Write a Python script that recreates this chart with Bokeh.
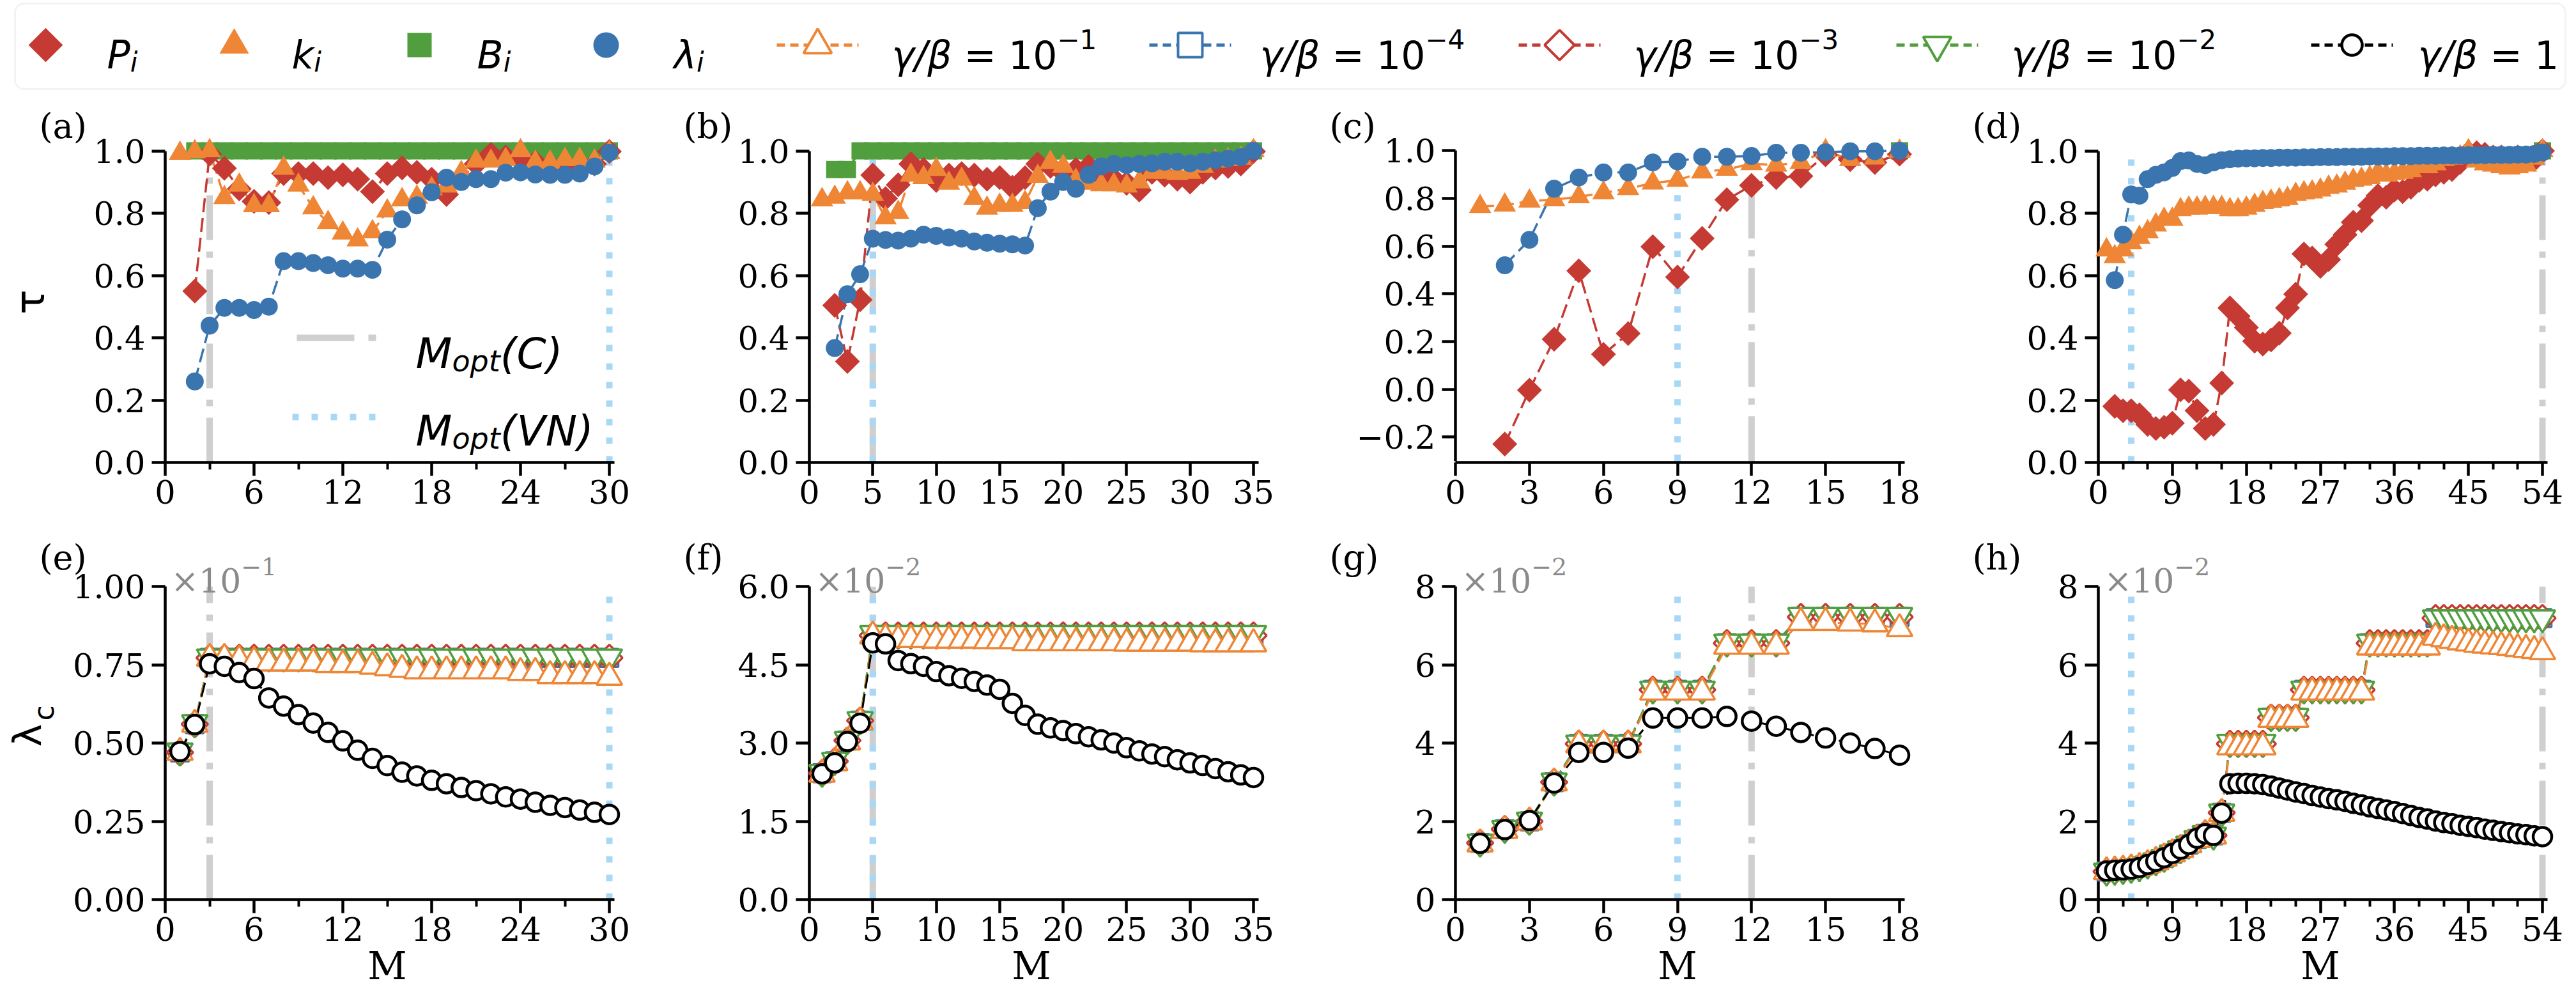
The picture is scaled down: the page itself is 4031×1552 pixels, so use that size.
import numpy as np
from bokeh.plotting import figure
from bokeh.layouts import column, row
from bokeh.models import Range1d, FixedTicker, CustomJSTickFormatter, Label, BoxAnnotation
from bokeh.core.properties import value
from bokeh.embed import file_html
from bokeh.resources import INLINE

# ======================= DATA =======================
# ---- top row: tau of P_i, k_i, B_i, lambda_i versus M ----
a_M_P = list(range(2, 31))
a_P = [0.55, 0.99, 0.944, 0.878, 0.838, 0.834, 0.927, 0.927, 0.927, 0.914, 0.923, 0.909, 0.869, 0.927,
       0.945, 0.931, 0.909, 0.86, 0.914, 0.958, 0.989, 0.98, 0.976, 0.963, 0.954, 0.954, 0.945, 0.958, 0.998]
a_M_k = list(range(1, 31))
a_k = [0.992, 0.997, 1.0, 0.85, 0.89, 0.824, 0.824, 0.944, 0.89, 0.817, 0.77, 0.736, 0.714, 0.74, 0.807,
       0.843, 0.851, 0.878, 0.887, 0.93, 0.967, 0.967, 0.972, 1.0, 0.963, 0.963, 0.972, 0.972, 0.967, 0.994]
a_M_B = list(range(2, 31))
a_B = [1.0, 1.0, 1.0, 1.0, 1.0, 1.0, 1.0, 1.0, 1.0, 1.0, 1.0, 1.0, 1.0, 1.0, 1.0,
       1.0, 1.0, 1.0, 1.0, 1.0, 1.0, 1.0, 1.0, 1.0, 1.0, 1.0, 1.0, 1.0, 1.0]
a_M_L = list(range(2, 31))
a_L = [0.26, 0.439, 0.496, 0.496, 0.489, 0.50, 0.646, 0.646, 0.64, 0.633, 0.622, 0.622, 0.618, 0.715,
       0.78, 0.825, 0.867, 0.914, 0.90, 0.909, 0.909, 0.93, 0.931, 0.924, 0.923, 0.923, 0.927, 0.95, 0.994]

b_M_P = list(range(2, 36))
b_P = [0.504, 0.324, 0.522, 0.922, 0.847, 0.891, 0.958, 0.94, 0.905, 0.922, 0.927, 0.922, 0.909, 0.914,
       0.883, 0.914, 0.958, 0.95, 0.931, 0.94, 0.95, 0.922, 0.909, 0.896, 0.874, 0.931, 0.922, 0.909,
       0.90, 0.931, 0.945, 0.95, 0.958, 0.998]
b_M_k = list(range(1, 36))
b_k = [0.843, 0.851, 0.865, 0.865, 0.86, 0.785, 0.802, 0.922, 0.914, 0.94, 0.896, 0.909, 0.847, 0.816,
       0.825, 0.825, 0.834, 0.918, 0.963, 0.95, 0.905, 0.896, 0.891, 0.891, 0.887, 0.90, 0.931, 0.931,
       0.927, 0.931, 0.95, 0.967, 0.972, 0.976, 1.0]
b_M_B = list(range(2, 36))
b_B = [0.94, 0.94, 1.0, 1.0, 1.0, 1.0, 1.0, 1.0, 1.0, 1.0, 1.0, 1.0, 1.0, 1.0, 1.0, 1.0, 1.0,
       1.0, 1.0, 1.0, 1.0, 1.0, 1.0, 1.0, 1.0, 1.0, 1.0, 1.0, 1.0, 1.0, 1.0, 1.0, 1.0, 1.0]
b_M_L = list(range(2, 36))
b_L = [0.367, 0.54, 0.604, 0.718, 0.714, 0.712, 0.718, 0.731, 0.727, 0.722, 0.718, 0.709, 0.705, 0.702,
       0.70, 0.696, 0.816, 0.869, 0.90, 0.878, 0.923, 0.95, 0.958, 0.954, 0.958, 0.96, 0.965, 0.965,
       0.96, 0.965, 0.97, 0.975, 0.98, 1.0]

c_M_P = list(range(2, 19))
c_P = [-0.229, -0.003, 0.21, 0.497, 0.147, 0.234, 0.598, 0.471, 0.633, 0.795, 0.855, 0.888, 0.894,
       0.983, 0.963, 0.951, 0.986]
c_M_k = list(range(1, 19))
c_k = [0.766, 0.772, 0.789, 0.795, 0.807, 0.824, 0.841, 0.865, 0.876, 0.911, 0.922, 0.946, 0.94,
       0.951, 1.0, 0.963, 0.969, 0.998]
c_M_B = [18]
c_B = [1.0]
c_M_L = list(range(2, 19))
c_L = [0.52, 0.627, 0.841, 0.888, 0.909, 0.909, 0.951, 0.955, 0.975, 0.975, 0.978, 0.992, 0.992,
       0.994, 0.998, 0.998, 1.0]

d_M_P = list(range(2, 55))
d_P = [0.18, 0.166, 0.166, 0.153, 0.122, 0.109, 0.113, 0.126, 0.233, 0.229, 0.166, 0.109, 0.122,
       0.255, 0.496, 0.469, 0.433, 0.389, 0.38, 0.393, 0.415, 0.496, 0.54,
       0.669, 0.656, 0.629, 0.651, 0.70, 0.731, 0.771, 0.776, 0.825, 0.856,
       0.851, 0.874, 0.869, 0.883, 0.905, 0.909, 0.923, 0.931, 0.94, 0.963,
       0.994, 0.994, 0.989, 0.98, 0.98, 0.976, 0.98, 0.976, 0.972, 1.0]
d_M_k = list(range(1, 55))
d_k = [0.682, 0.66, 0.682, 0.705, 0.722, 0.74, 0.762, 0.78, 0.78, 0.811,
       0.816, 0.816, 0.818, 0.818, 0.818, 0.811, 0.811, 0.816, 0.825, 0.834,
       0.838, 0.843, 0.847, 0.86, 0.865, 0.868, 0.874, 0.883, 0.887, 0.896,
       0.905, 0.909, 0.914, 0.931, 0.922, 0.927, 0.931, 0.936, 0.949, 0.949,
       0.958, 0.972, 0.976, 0.98, 1.0, 0.967, 0.958, 0.954, 0.949, 0.945,
       0.949, 0.954, 0.976, 1.0]
d_M_B = [54]
d_B = [1.0]
d_M_L = list(range(2, 55))
d_L = [0.585, 0.731, 0.86, 0.856, 0.909, 0.923, 0.931, 0.945, 0.967, 0.969, 0.958, 0.954, 0.963, 0.97, 0.973,
       0.975, 0.976, 0.976, 0.977, 0.977, 0.978, 0.978, 0.978, 0.979, 0.979,
       0.98, 0.98, 0.98, 0.981, 0.981, 0.981, 0.982, 0.982, 0.982, 0.983,
       0.983, 0.983, 0.984, 0.984, 0.984, 0.985, 0.985, 0.985, 0.986, 0.986,
       0.986, 0.987, 0.987, 0.987, 0.988, 0.988, 0.99, 0.995]

# ---- bottom row: lambda_c (in units of the axis multiplier) versus M ----
e_M = list(range(1, 31))
e_g1 = [0.473, 0.559, 0.753, 0.745, 0.725, 0.706, 0.644, 0.618, 0.591, 0.564, 0.534, 0.507, 0.477, 0.451,
        0.428, 0.407, 0.395, 0.381, 0.37, 0.358, 0.348, 0.338, 0.328, 0.321, 0.311, 0.301, 0.294, 0.286,
        0.279, 0.272]
e_m1 = [0.47, 0.56, 0.77, 0.77, 0.765, 0.76, 0.755, 0.755, 0.755, 0.755, 0.75, 0.75, 0.75, 0.745, 0.74,
        0.735, 0.73, 0.73, 0.73, 0.73, 0.73, 0.73, 0.73, 0.725, 0.725, 0.715, 0.715, 0.715, 0.715, 0.71]
e_m2 = [0.475, 0.565, 0.775, 0.775, 0.775, 0.775, 0.775, 0.775, 0.775, 0.775, 0.775, 0.775, 0.775, 0.775,
        0.775, 0.775, 0.775, 0.775, 0.775, 0.775, 0.775, 0.775, 0.775, 0.775, 0.775, 0.775, 0.775, 0.775,
        0.775, 0.775]
e_m3 = [0.47, 0.56, 0.772, 0.772, 0.772, 0.772, 0.772, 0.772, 0.772, 0.772, 0.772, 0.772, 0.772, 0.772,
        0.772, 0.772, 0.772, 0.772, 0.772, 0.772, 0.772, 0.772, 0.772, 0.772, 0.772, 0.772, 0.772, 0.772,
        0.772, 0.772]
e_m4 = [0.47, 0.56, 0.772, 0.772, 0.772, 0.772, 0.772, 0.772, 0.772, 0.772, 0.772, 0.772, 0.772, 0.772,
        0.772, 0.772, 0.772, 0.772, 0.772, 0.772, 0.772, 0.772, 0.772, 0.772, 0.772, 0.772, 0.772, 0.772,
        0.772, 0.772]

f_M = list(range(1, 36))
f_g1 = [2.41, 2.62, 3.03, 3.38, 4.92, 4.9, 4.58, 4.52, 4.47, 4.37, 4.29, 4.24, 4.18, 4.11, 4.03, 3.76,
        3.53, 3.36, 3.29, 3.24, 3.18, 3.12, 3.06, 3.0, 2.91, 2.85, 2.79, 2.74, 2.68, 2.62, 2.57, 2.51,
        2.45, 2.39, 2.34]
f_m1 = [2.4, 2.62, 3.02, 3.4, 5.05, 5.0, 4.98, 4.98, 4.98, 4.97, 4.97, 4.97, 4.97, 4.96, 4.96, 4.96,
        4.92, 4.92, 4.92, 4.92, 4.92, 4.92, 4.92, 4.92, 4.91, 4.91, 4.91, 4.91, 4.91, 4.91, 4.9, 4.9,
        4.9, 4.9, 4.9]
f_m2 = [2.44, 2.67, 3.07, 3.45, 5.1, 5.1, 5.1, 5.1, 5.1, 5.1, 5.1, 5.1, 5.1, 5.1, 5.1, 5.1, 5.1, 5.1,
        5.1, 5.1, 5.1, 5.1, 5.1, 5.1, 5.1, 5.1, 5.1, 5.1, 5.1, 5.1, 5.1, 5.1, 5.1, 5.1, 5.1]
f_m3 = [2.42, 2.65, 3.05, 3.43, 5.06, 5.06, 5.06, 5.06, 5.06, 5.06, 5.06, 5.06, 5.06, 5.06, 5.06, 5.06,
        5.06, 5.06, 5.06, 5.06, 5.06, 5.06, 5.06, 5.06, 5.06, 5.06, 5.06, 5.06, 5.06, 5.06, 5.06, 5.06,
        5.06, 5.06, 5.06]
f_m4 = [2.42, 2.65, 3.05, 3.43, 5.06, 5.06, 5.06, 5.06, 5.06, 5.06, 5.06, 5.06, 5.06, 5.06, 5.06, 5.06,
        5.06, 5.06, 5.06, 5.06, 5.06, 5.06, 5.06, 5.06, 5.06, 5.06, 5.06, 5.06, 5.06, 5.06, 5.06, 5.06,
        5.06, 5.06, 5.06]

g_M = list(range(1, 19))
g_g1 = [1.44, 1.79, 2.02, 2.98, 3.76, 3.76, 3.87, 4.64, 4.64, 4.64, 4.68, 4.56, 4.43, 4.27, 4.13, 4.0, 3.86, 3.69]
g_m1 = [1.42, 1.77, 1.98, 2.98, 3.95, 3.95, 3.95, 5.3, 5.3, 5.3, 6.47, 6.47, 6.47, 7.08, 7.08, 7.06, 7.04, 6.92]
g_m2 = [1.47, 1.82, 2.03, 3.03, 4.0, 4.0, 4.0, 5.38, 5.38, 5.38, 6.58, 6.58, 6.58, 7.26, 7.26, 7.26, 7.26, 7.26]
g_m3 = [1.45, 1.8, 2.0, 3.0, 3.98, 3.98, 3.98, 5.36, 5.36, 5.36, 6.55, 6.55, 6.55, 7.22, 7.22, 7.22, 7.22, 7.22]
g_m4 = [1.45, 1.8, 2.0, 3.0, 3.98, 3.98, 3.98, 5.36, 5.36, 5.36, 6.55, 6.55, 6.55, 7.22, 7.22, 7.22, 7.22, 7.22]

h_M = list(range(1, 55))
h_g1 = [0.73, 0.75, 0.76, 0.78, 0.82, 0.9, 0.98, 1.07, 1.18, 1.29,
        1.41, 1.57, 1.68, 1.64, 2.21, 2.96, 2.97, 2.97, 2.96, 2.94,
        2.90, 2.85, 2.80, 2.75, 2.71, 2.66, 2.62, 2.58, 2.55, 2.51,
        2.46, 2.42, 2.37, 2.33, 2.29, 2.25, 2.20, 2.15, 2.10, 2.06,
        2.01, 1.97, 1.94, 1.90, 1.87, 1.84, 1.80, 1.77, 1.74, 1.71,
        1.68, 1.66, 1.63, 1.61]
h_m1 = [0.71, 0.73, 0.75, 0.78, 0.82, 0.89, 0.97, 1.06, 1.17, 1.28,
        1.40, 1.53, 1.66, 1.62, 2.2, 3.9, 3.9, 3.9, 3.9, 3.9,
        4.6, 4.6, 4.6, 4.6, 5.3, 5.3, 5.3, 5.3, 5.3, 5.3,
        5.3, 5.3, 6.45, 6.45, 6.45, 6.45, 6.45, 6.45, 6.45, 6.45,
        6.7, 6.66, 6.62, 6.58, 6.55, 6.52, 6.5, 6.48, 6.46, 6.44,
        6.41, 6.39, 6.36, 6.33]
h_m2 = [0.73, 0.75, 0.77, 0.8, 0.84, 0.91, 0.99, 1.08, 1.19, 1.3,
        1.42, 1.56, 1.69, 1.65, 2.24, 4.02, 4.02, 4.02, 4.02, 4.02,
        4.68, 4.68, 4.68, 4.68, 5.38, 5.38, 5.38, 5.38, 5.38, 5.38,
        5.38, 5.38, 6.58, 6.58, 6.58, 6.58, 6.58, 6.58, 6.58, 6.58,
        7.2, 7.2, 7.2, 7.2, 7.2, 7.2, 7.2, 7.2, 7.2, 7.2,
        7.2, 7.2, 7.2, 7.2]
h_m3 = [0.72, 0.74, 0.76, 0.79, 0.83, 0.9, 0.98, 1.07, 1.18, 1.29,
        1.41, 1.55, 1.68, 1.64, 2.22, 3.98, 3.98, 3.98, 3.98, 3.98,
        4.65, 4.65, 4.65, 4.65, 5.36, 5.36, 5.36, 5.36, 5.36, 5.36,
        5.36, 5.36, 6.55, 6.55, 6.55, 6.55, 6.55, 6.55, 6.55, 6.55,
        7.19, 7.19, 7.19, 7.19, 7.19, 7.19, 7.19, 7.19, 7.19, 7.19,
        7.19, 7.19, 7.19, 7.19]
h_m4 = [0.72, 0.74, 0.76, 0.79, 0.83, 0.9, 0.98, 1.07, 1.18, 1.29,
        1.41, 1.55, 1.68, 1.64, 2.22, 3.98, 3.98, 3.98, 3.98, 3.98,
        4.65, 4.65, 4.65, 4.65, 5.36, 5.36, 5.36, 5.36, 5.36, 5.36,
        5.36, 5.36, 6.55, 6.55, 6.55, 6.55, 6.55, 6.55, 6.55, 6.55,
        7.19, 7.19, 7.19, 7.19, 7.19, 7.19, 7.19, 7.19, 7.19, 7.19,
        7.19, 7.19, 7.19, 7.19]

# optimal M markers
M_opt_C = [3, 5, 12, 54]
M_opt_VN = [30, 5, 9, 4]

# axes
x_max = [30, 35, 18, 54]
x_major = [[0, 6, 12, 18, 24, 30], [0, 5, 10, 15, 20, 25, 30, 35], [0, 3, 6, 9, 12, 15, 18],
           [0, 9, 18, 27, 36, 45, 54]]
x_minor = [[3, 9, 15, 21, 27], [], [], [3, 6, 12, 15, 21, 24, 30, 33, 39, 42, 48, 51]]
top_yticks = [[0.0, 0.2, 0.4, 0.6, 0.8, 1.0], [0.0, 0.2, 0.4, 0.6, 0.8, 1.0],
              [-0.2, 0.0, 0.2, 0.4, 0.6, 0.8, 1.0], [0.0, 0.2, 0.4, 0.6, 0.8, 1.0]]
bot_yticks = [[0.0, 0.25, 0.5, 0.75, 1.0], [0.0, 1.5, 3.0, 4.5, 6.0], [0, 2, 4, 6, 8], [0, 2, 4, 6, 8]]
bot_ydec = [2, 1, 0, 0]
bot_exp = ["\u22121", "\u22122", "\u22122", "\u22122"]
top_labels = ["(a)", "(b)", "(c)", "(d)"]
bot_labels = ["(e)", "(f)", "(g)", "(h)"]

# ======================= STYLE / GEOMETRY =======================
RED, ORANGE, GREEN, BLUE = "#C53A32", "#EF8636", "#519E3E", "#3B75AF"
VGRAY, VBLUE = "#CFCFCF", "#A8D8F6"
SERIF, SANS = "DejaVu Serif", "DejaVu Sans"

PAGE_W = 4031
LEG_H = 150
FW, AXLEN = 720, 695
FIG_X = [0, 1008, 2016, 3024]
FIG_W = [1008, 1008, 1008, 1007]
FRAME_L = [258, 1266, 2277, 3283]
T_FT, T_FH, T_BT, T_BB = 213, 510, 63, 95
B_FT, B_FH, B_BT, B_BB = 917, 490, 99, 145

W_SANS = {"P": .603, "k": .579, "B": .686, "λ": .592, "i": .278, "γ": .592, "/": .337, "β": .638,
          " ": .318, "=": .838, "0": .636, "1": .636, "M": .863, "o": .612, "p": .635, "t": .392,
          "(": .390, ")": .390, "C": .698, "V": .684, "N": .748}
W_SERIF = {"×": .838, "1": .636, "0": .636}


def tw(s, size, table):
    return sum(table.get(ch, 0.6) for ch in s) * size


def to_data(g, px, py):
    x = (px - g["fl"]) / FW * (g["x1"] - g["x0"]) + g["x0"]
    y = g["y1"] - (py - g["ft"]) / g["fh"] * (g["y1"] - g["y0"])
    return x, y


def add_text(p, g, px, py, text, size, font=SERIF, style="normal", align="left",
             baseline="alphabetic", color="black", angle=0.0):
    x, y = to_data(g, px, py)
    p.text(x=[x], y=[y], text=[text], text_font=value(font), text_font_size=value(f"{size}px"),
           text_font_style=value(style), text_align=value(align), text_baseline=value(baseline),
           text_color=color, angle=angle, level="overlay")


def make_panel(i, top, y0, y1):
    ft, fh, bt, bb = (T_FT, T_FH, T_BT, T_BB) if top else (B_FT, B_FH, B_BT, B_BB)
    bl = FRAME_L[i] - FIG_X[i]
    br = FIG_W[i] - bl - FW
    x1 = x_max[i] * FW / AXLEN
    p = figure(frame_width=FW, frame_height=fh, x_range=Range1d(0, x1), y_range=Range1d(y0, y1),
               min_border_left=bl, min_border_right=br, min_border_top=bt, min_border_bottom=bb,
               output_backend="svg", toolbar_location=None, title=None)
    p.xgrid.visible = False
    p.ygrid.visible = False
    p.outline_line_color = None
    p.background_fill_color = "white"
    p.border_fill_color = "white"
    g = dict(fl=FRAME_L[i], ft=ft, fh=fh, x0=0.0, x1=x1, y0=y0, y1=y1)
    return p, g


def style_axes(p, i, yt, ydec, ybounds):
    xa, ya = p.xaxis[0], p.yaxis[0]
    xa.ticker = FixedTicker(ticks=x_major[i], minor_ticks=x_minor[i])
    ya.ticker = FixedTicker(ticks=yt, minor_ticks=[])
    xa.formatter = CustomJSTickFormatter(code="return tick.toFixed(0);")
    ya.formatter = CustomJSTickFormatter(code="return tick.toFixed(%d).replace('-', '\\u2212');" % ydec)
    xa.bounds = (0, x_max[i] * (1 + 8.0 / AXLEN))
    ya.bounds = ybounds
    for ax in (xa, ya):
        ax.axis_line_width = 4.5
        ax.axis_line_color = "black"
        ax.major_tick_line_width = 4.5
        ax.minor_tick_line_width = 4
        ax.major_tick_out = 21
        ax.major_tick_in = 0
        ax.minor_tick_out = 11
        ax.minor_tick_in = 0
        ax.major_label_text_font = SERIF
        ax.major_label_text_font_size = "51px"
        ax.major_label_text_color = "black"
    xa.major_label_standoff = 6
    ya.major_label_standoff = 10


def vlines(p, i, ylo, yhi):
    p.segment(x0=[M_opt_C[i]], y0=[ylo], x1=[M_opt_C[i]], y1=[yhi], line_color=VGRAY,
              line_width=10, line_dash="70 18 10 18")
    p.segment(x0=[M_opt_VN[i]], y0=[ylo], x1=[M_opt_VN[i]], y1=[yhi], line_color=VBLUE,
              line_width=10, line_dash="10 19")


DASH = "22 9"


def top_series(p, M, v, kind):
    col = {"P": RED, "k": ORANGE, "B": GREEN, "L": BLUE}[kind]
    p.line(M, v, line_color=col, line_width=3.5, line_dash=DASH)
    if kind == "P":
        p.scatter(M, v, marker="square", angle=np.pi / 4, size=27.5, fill_color=col, line_color=None, level="overlay")
    elif kind == "k":
        p.scatter(M, v, marker="triangle", size=35, fill_color=col, line_color=None, level="overlay")
    elif kind == "B":
        p.scatter(M, v, marker="square", size=27, fill_color=col, line_color=None, level="overlay")
    else:
        p.scatter(M, v, marker="circle", size=28, fill_color=col, line_color=None, level="overlay")


def bot_series(p, M, v, kind):
    col = {"m4": BLUE, "m3": RED, "m2": GREEN, "m1": ORANGE, "g1": "black"}[kind]
    p.line(M, v, line_color=col, line_width=3, line_dash=DASH)
    common = dict(fill_color="white", line_color=col, level="overlay")
    if kind == "m4":
        p.scatter(M, v, marker="square", size=28, line_width=3.5, **common)
    elif kind == "m3":
        p.scatter(M, v, marker="square", angle=np.pi / 4, size=29, line_width=3.5, **common)
    elif kind == "m2":
        p.scatter(M, v, marker="inverted_triangle", size=40, line_width=3.5, **common)
    elif kind == "m1":
        p.scatter(M, v, marker="triangle", size=40, line_width=3.5, **common)
    else:
        p.scatter(M, v, marker="circle", size=29, line_width=4.5, **common)


# ======================= LEGEND STRIP =======================
leg = figure(frame_width=PAGE_W, frame_height=LEG_H, x_range=Range1d(0, PAGE_W), y_range=Range1d(0, LEG_H),
             min_border_left=0, min_border_right=0, min_border_top=0, min_border_bottom=0,
             x_axis_type=None, y_axis_type=None, output_backend="svg", toolbar_location=None, title=None)
leg.outline_line_color = None
leg.add_layout(BoxAnnotation(left=23, right=4014, top=LEG_H - 5, bottom=LEG_H - 139, fill_color=None,
                             fill_alpha=0, line_color="#D6D6D6", line_width=3, border_radius=14))
LY = LEG_H - 70
LB = LEG_H - 85


def leg_text(x, y, text, size, style="italic"):
    leg.add_layout(Label(x=x, y=y, text=text, text_font=SANS, text_font_size=f"{size}px",
                         text_font_style=style, text_align="left", text_baseline="alphabetic", text_color="black"))


filled_items = [(71, 167, "P", RED), (366, 456, "k", ORANGE), (656, 746, "B", GREEN), (948, 1054, "λ", BLUE)]
for mx, tx, sym, col in filled_items:
    if sym == "P":
        leg.scatter([mx], [LY], marker="square", angle=np.pi / 4, size=38, fill_color=col, line_color=None)
    elif sym == "k":
        leg.scatter([mx], [LY], marker="triangle", size=46, fill_color=col, line_color=None)
    elif sym == "B":
        leg.scatter([mx], [LY], marker="square", size=38, fill_color=col, line_color=None)
    else:
        leg.scatter([mx], [LY], marker="circle", size=40, fill_color=col, line_color=None)
    leg_text(tx, LB, sym, 60)
    leg_text(tx + tw(sym, 60, W_SANS), LB - 12, "i", 42)

line_items = [(1279, 1395, "\u22121", ORANGE, "triangle"), (1862, 1971, "\u22124", BLUE, "square"),
              (2440, 2556, "\u22123", RED, "diamond"), (3031, 3147, "\u22122", GREEN, "inverted_triangle"),
              (3680, 3783, None, "black", "circle")]
for mx, tx, sup, col, mk in line_items:
    leg.segment(x0=[mx - 64], y0=[LY], x1=[mx + 64], y1=[LY], line_color=col, line_width=5, line_dash="13 8")
    if mk == "diamond":
        leg.scatter([mx], [LY], marker="square", angle=np.pi / 4, size=33, fill_color="white", line_color=col, line_width=4)
    elif mk == "circle":
        leg.scatter([mx], [LY], marker="circle", size=32, fill_color="white", line_color=col, line_width=4.5)
    else:
        leg.scatter([mx], [LY], marker=mk, size=44 if mk != "square" else 38, fill_color="white",
                    line_color=col, line_width=4)
    leg_text(tx, LB, "γ/β", 60)
    x2 = tx + tw("γ/β ", 60, W_SANS)
    leg_text(x2, LB, "=", 60, style="normal")
    x3 = x2 + tw("= ", 60, W_SANS)
    num = "10" if sup else "1"
    leg_text(x3, LB, num, 60, style="normal")
    if sup:
        leg_text(x3 + tw(num, 60, W_SANS), LB + 24, sup, 42, style="normal")

# ======================= TOP ROW =======================
top_data = [
    [(a_M_B, a_B, "B"), (a_M_P, a_P, "P"), (a_M_k, a_k, "k"), (a_M_L, a_L, "L")],
    [(b_M_B, b_B, "B"), (b_M_P, b_P, "P"), (b_M_k, b_k, "k"), (b_M_L, b_L, "L")],
    [(c_M_B, c_B, "B"), (c_M_P, c_P, "P"), (c_M_k, c_k, "k"), (c_M_L, c_L, "L")],
    [(d_M_B, d_B, "B"), (d_M_P, d_P, "P"), (d_M_k, d_k, "k"), (d_M_L, d_L, "L")],
]
top_figs = []
for i in range(4):
    if i == 2:
        ylo = -0.3
        scale = 485.3 / 1.3
        y0 = -0.3 - (723 - 720.7) / scale
        y1 = y0 + T_FH / scale
    else:
        ylo = 0.0
        y0 = 0.0
        y1 = T_FH / 487.5
    p, g = make_panel(i, True, y0, y1)
    style_axes(p, i, top_yticks[i], 1, (ylo, 1.0))
    vlines(p, i, ylo, 1.0)
    for M, v, kind in top_data[i]:
        top_series(p, M, v, kind)
    add_text(p, g, FRAME_L[i] - 197, 197, top_labels[i], 54, baseline="middle")
    if i == 0:
        add_text(p, g, 46, 472, "τ", 64, font=SANS, align="center", baseline="middle", angle=np.pi / 2)
        # M_opt legend
        gx0, gy = to_data(g, 464, 528)
        gx1, _ = to_data(g, 592, 528)
        p.segment(x0=[gx0], y0=[gy], x1=[gx1], y1=[gy], line_color=VGRAY, line_width=10, line_dash="90 22 12 22")
        bx0, by = to_data(g, 457, 652)
        bx1, _ = to_data(g, 589, 652)
        p.segment(x0=[bx0], y0=[by], x1=[bx1], y1=[by], line_color=VBLUE, line_width=10, line_dash="10 20")
        for base_y, tail in ((553, "(C)"), (674, "(VN)")):
            x = 650
            add_text(p, g, x, base_y, "M", 66, font=SANS, style="italic")
            x += tw("M", 66, W_SANS)
            add_text(p, g, x, base_y + 11, "opt", 46, font=SANS, style="italic")
            x += tw("opt", 46, W_SANS)
            add_text(p, g, x, base_y, tail, 66, font=SANS, style="italic")
    top_figs.append(p)

# ======================= BOTTOM ROW =======================
bot_data = [
    [(e_M, e_m4, "m4"), (e_M, e_m3, "m3"), (e_M, e_m2, "m2"), (e_M, e_m1, "m1"), (e_M, e_g1, "g1")],
    [(f_M, f_m4, "m4"), (f_M, f_m3, "m3"), (f_M, f_m2, "m2"), (f_M, f_m1, "m1"), (f_M, f_g1, "g1")],
    [(g_M, g_m4, "m4"), (g_M, g_m3, "m3"), (g_M, g_m2, "m2"), (g_M, g_m1, "m1"), (g_M, g_g1, "g1")],
    [(h_M, h_m4, "m4"), (h_M, h_m3, "m3"), (h_M, h_m2, "m2"), (h_M, h_m1, "m1"), (h_M, h_g1, "g1")],
]
bot_figs = []
for i in range(4):
    ytop = bot_yticks[i][-1]
    p, g = make_panel(i, False, 0.0, ytop)
    style_axes(p, i, bot_yticks[i], bot_ydec[i], (0.0, ytop))
    vlines(p, i, 0.0, ytop)
    for M, v, kind in bot_data[i]:
        bot_series(p, M, v, kind)
    add_text(p, g, FRAME_L[i] - 197, 872, bot_labels[i], 54, baseline="middle")
    add_text(p, g, FRAME_L[i] + 9, 908, "×10", 52, color="#8A8A8A")
    add_text(p, g, FRAME_L[i] + 9 + tw("×10", 52, W_SERIF), 886, bot_exp[i], 38, color="#8A8A8A")
    add_text(p, g, FRAME_L[i] + AXLEN / 2, 1510, "M", 60, align="center", baseline="middle")
    if i == 0:
        add_text(p, g, 42, 1150, "λ", 60, font=SANS, align="center", baseline="middle", angle=np.pi / 2)
        add_text(p, g, 68, 1115, "c", 44, font=SANS, align="center", baseline="middle", angle=np.pi / 2)
    bot_figs.append(p)

layout = column(leg, row(*top_figs), row(*bot_figs))
open("out.html", "w").write(file_html(layout, INLINE))
